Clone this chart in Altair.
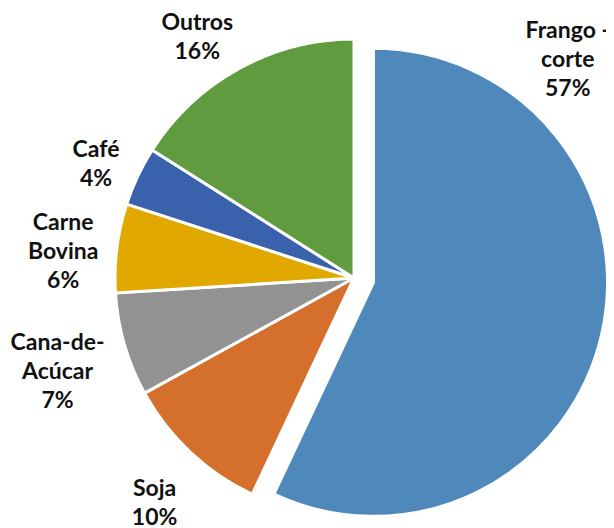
import altair as alt
import pandas as pd

# ---- data ----
categories = ["Frango - corte", "Soja", "Cana-de-Acúcar", "Carne Bovina", "Café", "Outros"]
shares = [57, 10, 7, 6, 4, 16]
label_lines = ["Frango -\ncorte", "Soja", "Cana-de-\nAcúcar", "Carne\nBovina", "Café", "Outros"]
colors = ["#4F89BC", "#D4702C", "#929292", "#E1A900", "#3A62AC", "#609B3F"]

# ---- layout / style ----
CX, CY = 346, 270          # pie centre (chart pixels)
R_MAIN, R_EXPL = 239, 234  # outer radius
EXPLODE = 20               # explosion of the first slice
FONT_SIZE, LINE_H = 23, 29
# label placement: angular tweak from slice bisector (deg) and distance from centre
label_tweak = {"Frango - corte": (-58.1, 305), "Soja": (-1.7, 301), "Cana-de-Acúcar": (-1.4, 311),
               "Carne Bovina": (-2.1, 292), "Café": (-1.4, 282), "Outros": (-4.3, 287)}


def lookup_expr(idx):
    expr = "0"
    for k, v in label_tweak.items():
        expr = f"(datum.categoria == '{k}' ? {v[idx]} : {expr})"
    return expr


df = pd.DataFrame({"categoria": categories, "pct": shares, "rotulo": label_lines,
                   "ordem": list(range(len(categories)))})

base = alt.Chart(df).transform_window(
    cum="sum(pct)", sort=[alt.SortField("ordem")], frame=[None, 0]
).transform_joinaggregate(
    total="sum(pct)"
).transform_calculate(
    a0="2*PI*(datum.cum - datum.pct)/datum.total",
    a1="2*PI*datum.cum/datum.total",
).transform_calculate(
    mid="(datum.a0 + datum.a1)/2",
    ex=f"datum.ordem == 0 ? {EXPLODE} : 0",
    r=f"datum.ordem == 0 ? {R_EXPL} : {R_MAIN}",
).transform_calculate(
    cx=f"{CX} + datum.ex*sin(datum.mid)",
    cy=f"{CY} - datum.ex*cos(datum.mid)",
    la=f"datum.mid + ({lookup_expr(0)})*PI/180",
    ld=lookup_expr(1),
    txt="datum.rotulo + '\\n' + datum.pct + '%'",
).transform_calculate(
    nl="length(split(datum.txt, '\\n'))",
).transform_calculate(
    lx=f"{CX} + datum.ld*sin(datum.la)",
    ly=f"{CY} - datum.ld*cos(datum.la) - (datum.nl - 1)*{LINE_H}/2",
)

arcs = base.mark_arc(stroke="white", strokeWidth=3).encode(
    theta=alt.Theta("a0:Q", scale=None, stack=None),
    theta2="a1:Q",
    radius=alt.Radius("r:Q", scale=None),
    x=alt.X("cx:Q", scale=None),
    y=alt.Y("cy:Q", scale=None),
    color=alt.Color("categoria:N", scale=alt.Scale(domain=categories, range=colors), legend=None),
)

labels = base.mark_text(
    lineBreak="\n", font="Lato", fontSize=FONT_SIZE, fontWeight="bold", lineHeight=LINE_H,
    align="center", baseline="middle", color="#111111",
).encode(
    x=alt.X("lx:Q", scale=None),
    y=alt.Y("ly:Q", scale=None),
    text="txt:N",
)

chart = alt.layer(arcs, labels).properties(
    width=598, height=520, padding=0, autosize="none"
).configure_view(stroke=None)

chart.save("out.html", embed_options={"renderer": "svg", "actions": False})
